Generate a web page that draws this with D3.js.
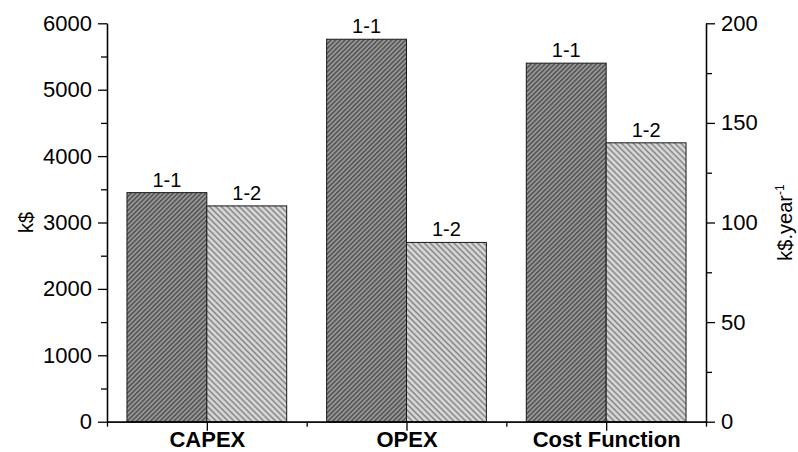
<!DOCTYPE html>
<html>
<head>
<meta charset="utf-8">
<script src="https://cdn.jsdelivr.net/npm/d3@7/dist/d3.min.js"></script>
<style>
  html, body { margin: 0; padding: 0; background: #fff; }
  svg { display: block; font-family: "Liberation Sans", Arial, sans-serif; }
</style>
</head>
<body>
<svg id="chart" width="798" height="452"></svg>
<script>
// Cost comparison of configurations 1-1 and 1-2
const categories = ["CAPEX", "OPEX", "Cost Function"];
const seriesNames = ["1-1", "1-2"];
const capexValues = [3450, 3250];        // k$ (left axis)
const opexValues = [192, 90];            // k$.year^-1 (right axis)
const costFunctionValues = [180, 140];   // k$.year^-1 (right axis)
const categoryAxis = ["left", "right", "right"];

const leftTicks = [0, 1000, 2000, 3000, 4000, 5000, 6000];
const leftMinorTicks = [500, 1500, 2500, 3500, 4500, 5500];
const rightTicks = [0, 50, 100, 150, 200];
const rightMinorTicks = [25, 75, 125, 175];
const xMinorTicks = [0.5, 1.5, 2.5, 3.5];

const seriesValues = [capexValues, opexValues, costFunctionValues];

const W = 798, H = 452;
const margin = { left: 107, right: 92, top: 23.3, bottom: 30.3 };
const svg = d3.select("#chart");

const x = d3.scaleLinear().domain([0.5, 3.5]).range([margin.left, W - margin.right]);
const yL = d3.scaleLinear().domain([0, 6000]).range([H - margin.bottom, margin.top]);
const yR = d3.scaleLinear().domain([0, 200]).range([H - margin.bottom, margin.top]);
const barW = x(1.4) - x(1);

// hatch fills
const defs = svg.append("defs");
function hatch(id, angle, size, bg, fg, lw) {
  const p = defs.append("pattern")
    .attr("id", id)
    .attr("patternUnits", "userSpaceOnUse")
    .attr("width", size).attr("height", size)
    .attr("patternTransform", `rotate(${angle})`);
  p.append("rect").attr("width", size).attr("height", size).attr("fill", bg);
  p.append("line").attr("x1", size / 2).attr("x2", size / 2)
    .attr("y1", 0).attr("y2", size)
    .attr("stroke", fg).attr("stroke-width", lw);
}
hatch("hatch11", 45, 3.3, "#979797", "#474747", 1.3);
hatch("hatch12", -45, 4.2, "#dadada", "#808080", 1.5);
const fills = ["url(#hatch11)", "url(#hatch12)"];

// bars
const bars = [];
categories.forEach((c, ci) => {
  seriesNames.forEach((s, si) => {
    const y = categoryAxis[ci] === "left" ? yL : yR;
    bars.push({ ci, si, name: s, value: seriesValues[ci][si], y });
  });
});

const g = svg.append("g");
g.selectAll("rect.bar").data(bars).join("rect")
  .attr("class", "bar")
  .attr("x", d => x(d.ci + 1) - barW + d.si * barW)
  .attr("y", d => d.y(d.value))
  .attr("width", barW)
  .attr("height", d => d.y(0) - d.y(d.value))
  .attr("fill", d => fills[d.si])
  .attr("stroke", "#1a1a1a")
  .attr("stroke-width", 1);

g.selectAll("text.lbl").data(bars).join("text")
  .attr("class", "lbl")
  .attr("x", d => x(d.ci + 1) - barW / 2 + d.si * barW)
  .attr("y", d => d.y(d.value) - 6)
  .attr("text-anchor", "middle")
  .attr("font-size", 20)
  .attr("fill", "#000")
  .text(d => d.name);

// axes
const axisStyle = sel => {
  sel.select(".domain").attr("stroke", "#000").attr("stroke-width", 1.3);
  sel.selectAll(".tick line").attr("stroke", "#000").attr("stroke-width", 1.3);
  sel.selectAll("text").attr("font-family", "Liberation Sans, Arial, sans-serif").attr("fill", "#000");
};

// left axis
svg.append("g").attr("transform", `translate(${margin.left},0)`)
  .call(d3.axisLeft(yL).tickValues(leftMinorTicks).tickSize(6).tickFormat("").tickSizeOuter(0))
  .call(axisStyle);
svg.append("g").attr("transform", `translate(${margin.left},0)`)
  .call(d3.axisLeft(yL).tickValues(leftTicks).tickSize(9).tickPadding(6)
    .tickFormat(d3.format("d")).tickSizeOuter(0))
  .call(axisStyle)
  .call(s => s.selectAll("text").attr("font-size", 22));

// right axis
svg.append("g").attr("transform", `translate(${W - margin.right},0)`)
  .call(d3.axisRight(yR).tickValues(rightMinorTicks).tickSize(6).tickFormat("").tickSizeOuter(0))
  .call(axisStyle);
svg.append("g").attr("transform", `translate(${W - margin.right},0)`)
  .call(d3.axisRight(yR).tickValues(rightTicks).tickSize(9).tickPadding(6)
    .tickFormat(d3.format("d")).tickSizeOuter(0))
  .call(axisStyle)
  .call(s => s.selectAll("text").attr("font-size", 22));

// bottom axis
const y0 = H - margin.bottom;
svg.append("g").attr("transform", `translate(0,${y0})`)
  .call(d3.axisBottom(x).tickValues(xMinorTicks).tickSize(5).tickFormat("").tickSizeOuter(0))
  .call(axisStyle);
svg.append("g").attr("transform", `translate(0,${y0})`)
  .call(d3.axisBottom(x).tickValues([1, 2, 3]).tickSize(9).tickPadding(1)
    .tickFormat(d => categories[d - 1]).tickSizeOuter(0))
  .call(axisStyle)
  .call(s => s.selectAll("text").attr("font-size", 22).attr("font-weight", "bold"));

// axis titles
svg.append("text")
  .attr("transform", `translate(33,${(margin.top + y0) / 2}) rotate(-90)`)
  .attr("text-anchor", "middle")
  .attr("font-size", 20)
  .text("k$");

const rt = svg.append("text")
  .attr("transform", `translate(792,${(margin.top + y0) / 2}) rotate(-90)`)
  .attr("text-anchor", "middle")
  .attr("font-size", 20);
rt.append("tspan").text("k$.year");
rt.append("tspan").attr("dy", -8).attr("font-size", 12).text("-1");
</script>
</body>
</html>
